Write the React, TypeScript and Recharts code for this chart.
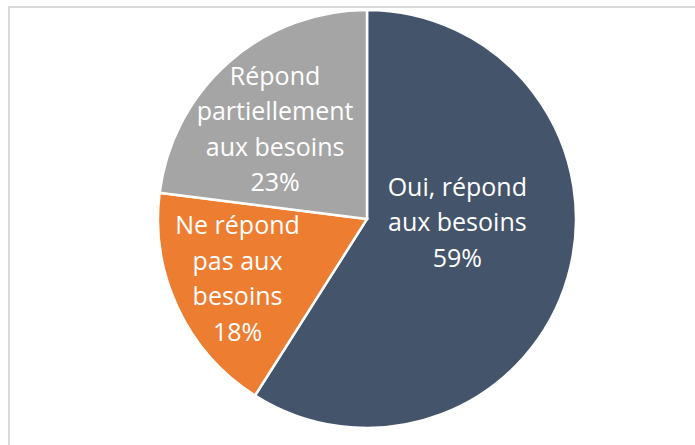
import { PieChart, Pie, Cell } from 'recharts'

const categories = ['Oui, répond aux besoins', 'Ne répond pas aux besoins', 'Répond partiellement aux besoins']
const shares = [59, 18, 23]
const labelLines = [
  ['Oui, répond', 'aux besoins'],
  ['Ne répond', 'pas aux', 'besoins'],
  ['Répond', 'partiellement', 'aux besoins'],
]
const colors = ['#44546A', '#ED7D31', '#A5A5A5']

const data = categories.map((name, i) => ({ name, value: shares[i] }))

// label radius (fraction of outer radius) and small nudges, per slice
const labelPos = [
  { r: 0.45, dx: 0, dy: -24 },
  { r: 0.6, dx: -16, dy: 5 },
  { r: 0.6, dx: -9, dy: 3 },
]

const RAD = Math.PI / 180
const LINE_H = 35.5

function SliceLabel(props: any) {
  const { cx, cy, midAngle, outerRadius, index, value } = props
  const p = labelPos[index]
  const x = cx + outerRadius * p.r * Math.cos(-midAngle * RAD) + p.dx
  const y = cy + outerRadius * p.r * Math.sin(-midAngle * RAD) + p.dy
  const lines = [...labelLines[index], `${value}%`]
  const top = y - ((lines.length - 1) * LINE_H) / 2
  return (
    <text x={x} y={top} fill="#fff" textAnchor="middle" dominantBaseline="central"
      style={{ fontFamily: '"Open Sans", sans-serif', fontSize: 25 }}>
      {lines.map((l, i) => (
        <tspan key={i} x={x} dy={i === 0 ? 0 : LINE_H}>{l}</tspan>
      ))}
    </text>
  )
}

export default function App() {
  return (
    <div style={{ position: 'fixed', left: 0, top: 0, width: 695, height: 445, overflow: 'hidden', background: '#fff' }}>
      <div style={{ position: 'absolute', left: 8, top: 6, width: 720, height: 470, border: '2px solid #d9d9d9' }} />
      <div style={{ position: 'absolute', left: 0, top: 0 }}>
        <PieChart width={695} height={445} margin={{ top: 0, right: 0, bottom: 0, left: 0 }}>
          <Pie data={data} dataKey="value" nameKey="name" cx={367} cy={219} outerRadius={209}
            startAngle={90} endAngle={-270} stroke="#fff" strokeWidth={2.5}
            label={SliceLabel} labelLine={false} isAnimationActive={false}>
            {data.map((d, i) => <Cell key={d.name} fill={colors[i]} />)}
          </Pie>
        </PieChart>
      </div>
    </div>
  )
}
